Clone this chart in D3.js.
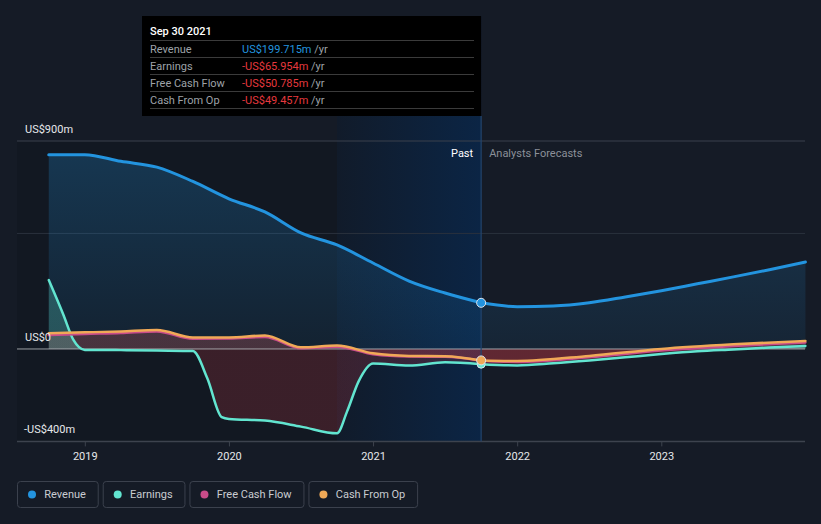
<!DOCTYPE html>
<html><head><meta charset="utf-8">
<script src="https://cdn.jsdelivr.net/npm/d3@7"></script>
<style>
html,body{margin:0;padding:0;background:#151b26;}
svg{display:block;font-family:Roboto,"Noto Sans",sans-serif;}
</style></head>
<body>
<svg id="c" width="821" height="524"></svg>
<script>
// ---- data (decimal years, US$m) ----
const revenueDates  = [2018.75,2019.0,2019.25,2019.5,2019.75,2020.0,2020.25,2020.5,2020.75,2021.0,2021.25,2021.5,2021.75];
const revenueValues = [840,841,812,787,725,650,593,502,450,372,294,242,199.715];
const revenueFcDates  = [2021.75,2022.0,2022.25,2022.5,2022.75,2023.0,2023.25,2023.5,2023.75,2024.0];
const revenueFcValues = [199.715,183,186,200,225,252,282,312,343,376];

const earningsDates  = [2018.75,2018.85,2018.92,2019.0,2019.25,2019.5,2019.75,2019.85,2019.95,2020.0,2020.25,2020.5,2020.75,2020.82,2020.9,2021.0,2021.25,2021.5,2021.75];
const earningsValues = [298,150,40,-4,-5,-7,-9,-127,-295,-303,-310,-336,-365,-270,-140,-63,-72,-58,-65.954];
const earningsFcDates  = [2021.75,2022.0,2022.25,2022.5,2022.75,2023.0,2023.25,2023.5,2023.75,2024.0];
const earningsFcValues = [-65.954,-71,-62,-50,-36,-22,-10,-2,6,13];

const fcfDates  = [2018.75,2019.0,2019.25,2019.5,2019.75,2020.0,2020.25,2020.5,2020.75,2021.0,2021.25,2021.5,2021.75];
const fcfValues = [60,65,69,76,44,45,52,3,10,-23,-33,-34,-50.785];
const fcfFcDates  = [2021.75,2022.0,2022.5,2023.0,2023.5,2024.0];
const fcfFcValues = [-50.785,-56,-36,-7,13,28];

const cfoDates  = [2018.75,2019.0,2019.25,2019.5,2019.75,2020.0,2020.25,2020.5,2020.75,2021.0,2021.25,2021.5,2021.75];
const cfoValues = [68,72,76,82,50,50,58,7,15,-19,-30,-31,-49.457];
const cfoFcDates  = [2021.75,2022.0,2022.5,2023.0,2023.5,2024.0];
const cfoFcValues = [-49.457,-52,-30,0,20,35];

const yTickValues = [900,0,-400];
const yTickLabels = ["US$900m","US$0","-US$400m"];
const xTickValues = [2019,2020,2021,2022,2023];
const legendNames = ["Revenue","Earnings","Free Cash Flow","Cash From Op"];
const legendColors = ["#2394df","#62e5d0","#c94c8a","#f0a957"];
const tipDate = "Sep 30 2021";
const tipLabels = ["Revenue","Earnings","Free Cash Flow","Cash From Op"];
const tipValues = ["US$199.715m","-US$65.954m","-US$50.785m","-US$49.457m"];
const presentDate = 2021.75;
const highlightStart = 2020.75;

// ---- scales ----
const svg = d3.select("#c");
const x = d3.scaleLinear().domain([2019,2023]).range([84.8,661.3]);
const y = d3.scaleLinear().domain([-400,900]).range([441.4,141]);
const L = 17, R = 805;
const zipS = (ds,vs)=>ds.map((d,i)=>({d,v:vs[i]}));

const defs = svg.append("defs");
const hg = defs.append("linearGradient").attr("id","hl").attr("x1","0").attr("x2","1").attr("y1","0").attr("y2","0");
hg.append("stop").attr("offset","0").attr("stop-color","#111b2a");
hg.append("stop").attr("offset","1").attr("stop-color","#0b2545");
const rg = defs.append("linearGradient").attr("id","rev").attr("gradientUnits","userSpaceOnUse")
  .attr("x1",0).attr("x2",0).attr("y1",y(900)).attr("y2",y(0));
rg.append("stop").attr("offset","0").attr("stop-color","#2394df").attr("stop-opacity",0.26);
rg.append("stop").attr("offset","1").attr("stop-color","#2394df").attr("stop-opacity",0.08);
function signGrad(id, posCol, posOp, negCol, negOp){
  const g = defs.append("linearGradient").attr("id",id).attr("gradientUnits","userSpaceOnUse")
    .attr("x1",0).attr("x2",0).attr("y1",y(900)).attr("y2",y(-400));
  const z = (y(0)-y(900))/(y(-400)-y(900));
  g.append("stop").attr("offset",0).attr("stop-color",posCol).attr("stop-opacity",posOp);
  g.append("stop").attr("offset",z).attr("stop-color",posCol).attr("stop-opacity",posOp);
  g.append("stop").attr("offset",z).attr("stop-color",negCol).attr("stop-opacity",negOp);
  g.append("stop").attr("offset",1).attr("stop-color",negCol).attr("stop-opacity",negOp);
}
signGrad("earnF","#62e5d0",0.25,"#dc3c46",0.2);
signGrad("fcfF","#e66464",0.25,"#dc3c46",0.22);

// past darker band
svg.append("rect").attr("x",L).attr("y",y(900)).attr("width",x(highlightStart)-L).attr("height",y(-400)-y(900))
  .attr("fill","#000").attr("opacity",0.1);
// highlight
svg.append("rect").attr("x",x(highlightStart)).attr("y",16).attr("width",x(presentDate)-x(highlightStart))
  .attr("height",y(-400)-16).attr("fill","url(#hl)");

// gridlines
svg.append("line").attr("x1",L).attr("x2",R).attr("y1",y(900)).attr("y2",y(900)).attr("stroke","#3a404c");
svg.append("line").attr("x1",L).attr("x2",R).attr("y1",y(500)).attr("y2",y(500)).attr("stroke","#2a313d");

// x axis
const xa = svg.append("g").attr("transform",`translate(0,${y(-400)})`)
  .call(d3.axisBottom(x).tickValues(xTickValues).tickFormat(d3.format("d")).tickSize(5).tickPadding(6));
xa.select(".domain").remove();
xa.selectAll(".tick line").attr("stroke","#3d434e");
xa.selectAll(".tick text").attr("fill","#e6e8eb").attr("font-size",11).attr("font-family","Roboto");
svg.append("line").attr("x1",L).attr("x2",R).attr("y1",y(-400)).attr("y2",y(-400)).attr("stroke","#3d434e").attr("stroke-width",1.5);

// areas
const curve = d3.curveMonotoneX;
const area = d3.area().x(p=>x(p.d)).y0(y(0)).y1(p=>y(p.v)).curve(curve);
const line = d3.line().x(p=>x(p.d)).y(p=>y(p.v)).curve(curve);
const rev = zipS(revenueDates,revenueValues), revF = zipS(revenueFcDates,revenueFcValues);
const ear = zipS(earningsDates,earningsValues), earF = zipS(earningsFcDates,earningsFcValues);
const fcf = zipS(fcfDates,fcfValues), fcfF = zipS(fcfFcDates,fcfFcValues);
const cfo = zipS(cfoDates,cfoValues), cfoF = zipS(cfoFcDates,cfoFcValues);

svg.append("path").attr("d",area(rev)).attr("fill","url(#rev)");
svg.append("path").attr("d",area(revF)).attr("fill","url(#rev)");
svg.append("path").attr("d",area(fcf)).attr("fill","url(#fcfF)");
svg.append("path").attr("d",area(fcfF)).attr("fill","url(#fcfF)");
svg.append("path").attr("d",area(ear)).attr("fill","url(#earnF)");
svg.append("path").attr("d",area(earF)).attr("fill","url(#earnF)");

// zero line
svg.append("line").attr("x1",L).attr("x2",R).attr("y1",y(0)).attr("y2",y(0)).attr("stroke","#b4b6bb").attr("stroke-opacity",0.85);

// present line
svg.append("line").attr("x1",x(presentDate)).attr("x2",x(presentDate)).attr("y1",116).attr("y2",y(-400))
  .attr("stroke","#23446c").attr("stroke-width",1.2);

function drawLine(data,col,w){
  svg.append("path").attr("d",line(data)).attr("fill","none").attr("stroke",col).attr("stroke-width",w).attr("stroke-linecap","round");
}
drawLine(ear,legendColors[1],2.5); drawLine(earF,legendColors[1],2.5);
drawLine(fcf,legendColors[2],2.5); drawLine(fcfF,legendColors[2],2.5);
drawLine(cfo,legendColors[3],2.5); drawLine(cfoF,legendColors[3],2.5);
drawLine(rev,legendColors[0],3); drawLine(revF,legendColors[0],3);

svg.append("circle").attr("cx",x(presentDate)).attr("cy",y(earningsValues[earningsValues.length-1])).attr("r",4)
  .attr("fill",legendColors[1]).attr("stroke","#dfe6ee").attr("stroke-width",1);
svg.append("circle").attr("cx",x(presentDate)).attr("cy",y(cfoValues[cfoValues.length-1])).attr("r",4.5)
  .attr("fill",legendColors[3]).attr("stroke","#dfe6ee").attr("stroke-width",1);
svg.append("circle").attr("cx",x(presentDate)).attr("cy",y(revenueValues[revenueValues.length-1])).attr("r",4.5)
  .attr("fill",legendColors[0]).attr("stroke","#dfe6ee").attr("stroke-width",1);

yTickValues.forEach((v,i)=>{
  svg.append("text").attr("x",i===2?24:25).attr("y",y(v)-8).attr("fill","#e6e8eb")
    .attr("font-size",11).text(yTickLabels[i]);
});

svg.append("text").attr("x",x(presentDate)-8).attr("y",157).attr("text-anchor","end").attr("fill","#ffffff").attr("font-size",11).text("Past");
svg.append("text").attr("x",x(presentDate)+8).attr("y",157).attr("fill","#8b9099").attr("font-size",11).text("Analysts Forecasts");

// tooltip
const tip = svg.append("g");
tip.append("rect").attr("x",142).attr("y",16).attr("width",x(presentDate)-142).attr("height",100).attr("fill","#000");
tip.append("text").attr("x",150).attr("y",35).attr("fill","#fff").attr("font-size",11).attr("font-weight",500).text(tipDate);
const rowY0 = 40, rowH = 17;
for(let i=0;i<=4;i++){
  tip.append("line").attr("x1",150).attr("x2",474).attr("y1",rowY0+i*rowH+0.5).attr("y2",rowY0+i*rowH+0.5).attr("stroke","#3b3b3b");
}
tipLabels.forEach((lab,i)=>{
  const by = rowY0 + i*rowH + 12.5;
  tip.append("text").attr("x",150).attr("y",by).attr("fill","#9ea2a8").attr("font-size",11).text(lab);
  const t = tip.append("text").attr("x",242).attr("y",by).attr("font-size",11);
  t.append("tspan").attr("fill", i===0 ? "#2394df" : "#e5393e").text(tipValues[i]);
  t.append("tspan").attr("fill","#9ea2a8").text(" /yr");
});

// legend
let lx = 17;
legendNames.forEach((name,i)=>{
  const g = svg.append("g");
  const t = g.append("text").attr("x",lx+27.3).attr("y",498).attr("fill","#c9ccd1").attr("font-size",11).text(name);
  const tw = t.node().getComputedTextLength();
  const w = 27.3 + tw + 11.8;
  g.insert("rect","text").attr("x",lx+0.5).attr("y",481.5).attr("width",w).attr("height",26).attr("rx",3)
    .attr("fill","none").attr("stroke","#3b414d");
  g.append("circle").attr("cx",lx+15).attr("cy",494.5).attr("r",4).attr("fill",legendColors[i]);
  lx += w + 5;
});
</script>
</body></html>
